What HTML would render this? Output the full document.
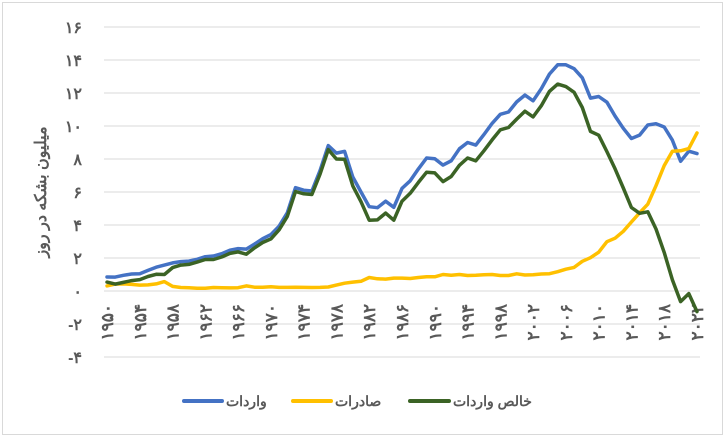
<!DOCTYPE html>
<html><head><meta charset="utf-8"><style>
html,body{margin:0;padding:0;background:#fff;}
svg{display:block;font-family:"Liberation Sans","Noto Sans CJK SC",sans-serif;}
</style></head><body>
<svg id="c" width="726" height="439" xmlns="http://www.w3.org/2000/svg">
<rect x="2.5" y="2.5" width="720" height="432" fill="#fff" stroke="#d9d9d9" stroke-width="1"/>
<g id="grid" stroke="#d9d9d9" stroke-width="1"></g>
<g id="ylab" fill="#595959" font-size="16" font-weight="bold" text-anchor="end"></g>
<g id="xlab" fill="#595959" font-size="17" font-weight="bold"></g>
<text transform="translate(46,192) rotate(-90)" text-anchor="middle" fill="#595959" font-size="16" font-weight="bold">میلیون بشکه در روز</text>
<g id="series" fill="none" stroke-width="3.5" stroke-linejoin="round" stroke-linecap="round"></g>
<g font-size="14" font-weight="bold" fill="#595959">
<line x1="184" y1="401" x2="222" y2="401" stroke="#4472C4" stroke-width="4" stroke-linecap="round"/>
<text x="226" y="406">واردات</text>
<line x1="293" y1="401" x2="331" y2="401" stroke="#FFC000" stroke-width="4" stroke-linecap="round"/>
<text x="335" y="406">صادرات</text>
<line x1="410" y1="401" x2="449" y2="401" stroke="#3B6325" stroke-width="4" stroke-linecap="round"/>
<text x="453" y="406">خالص واردات</text>
</g>
</svg>
<script>
var NS="http://www.w3.org/2000/svg";
function fa(n){var s=String(n),d="۰۱۲۳۴۵۶۷۸۹";return s.replace(/[0-9]/g,function(c){return d[+c];});}
function Y(v){return 291-v*16.5;}
function X(i){return 107+i*(590/72);}
var g=document.getElementById("grid"),yl=document.getElementById("ylab"),xl=document.getElementById("xlab");
for(var v=-4;v<=16;v+=2){
 var l=document.createElementNS(NS,"line");l.setAttribute("x1",104);l.setAttribute("x2",700);l.setAttribute("y1",Y(v));l.setAttribute("y2",Y(v));g.appendChild(l);
 var t=document.createElementNS(NS,"text");t.setAttribute("x",82);t.setAttribute("y",Y(v)+6);t.textContent=(v<0?"-":"")+fa(Math.abs(v));yl.appendChild(t);
}
for(var yr=1950;yr<=2022;yr+=4){
 var t=document.createElementNS(NS,"text");var x=X(yr-1950)+6;
 t.setAttribute("transform","translate("+x+",304) rotate(-90)");t.setAttribute("text-anchor","end");t.textContent=fa(yr);xl.appendChild(t);
}
var imp=[0.85,0.84,0.95,1.03,1.05,1.25,1.44,1.57,1.70,1.78,1.81,1.92,2.08,2.12,2.26,2.47,2.57,2.54,2.84,3.17,3.42,3.93,4.74,6.26,6.11,6.06,7.31,8.81,8.36,8.46,6.91,6.0,5.11,5.05,5.44,5.07,6.22,6.68,7.40,8.06,8.02,7.63,7.89,8.62,9.0,8.84,9.48,10.16,10.71,10.85,11.46,11.87,11.53,12.26,13.15,13.71,13.71,13.47,12.92,11.69,11.79,11.44,10.60,9.86,9.24,9.45,10.06,10.14,9.94,9.14,7.86,8.47,8.33];
var exp=[0.31,0.42,0.43,0.40,0.36,0.37,0.43,0.57,0.28,0.21,0.20,0.17,0.17,0.21,0.20,0.19,0.20,0.31,0.23,0.23,0.26,0.22,0.22,0.23,0.22,0.21,0.22,0.24,0.36,0.47,0.54,0.59,0.82,0.74,0.72,0.78,0.78,0.76,0.82,0.86,0.86,1.0,0.95,1.0,0.94,0.95,0.98,1.0,0.94,0.94,1.04,0.97,0.98,1.03,1.05,1.17,1.32,1.43,1.8,2.02,2.35,2.99,3.2,3.62,4.18,4.74,5.26,6.38,7.6,8.47,8.5,8.63,9.58];
var net=imp.map(function(v,i){return v-exp[i];});
var s=document.getElementById("series");
[[imp,"#4472C4"],[exp,"#FFC000"],[net,"#3B6325"]].forEach(function(p){
 var pl=document.createElementNS(NS,"polyline");
 pl.setAttribute("points",p[0].map(function(v,i){return X(i).toFixed(1)+","+Y(v).toFixed(1);}).join(" "));
 pl.setAttribute("stroke",p[1]);s.appendChild(pl);
});
</script>
</body></html>
